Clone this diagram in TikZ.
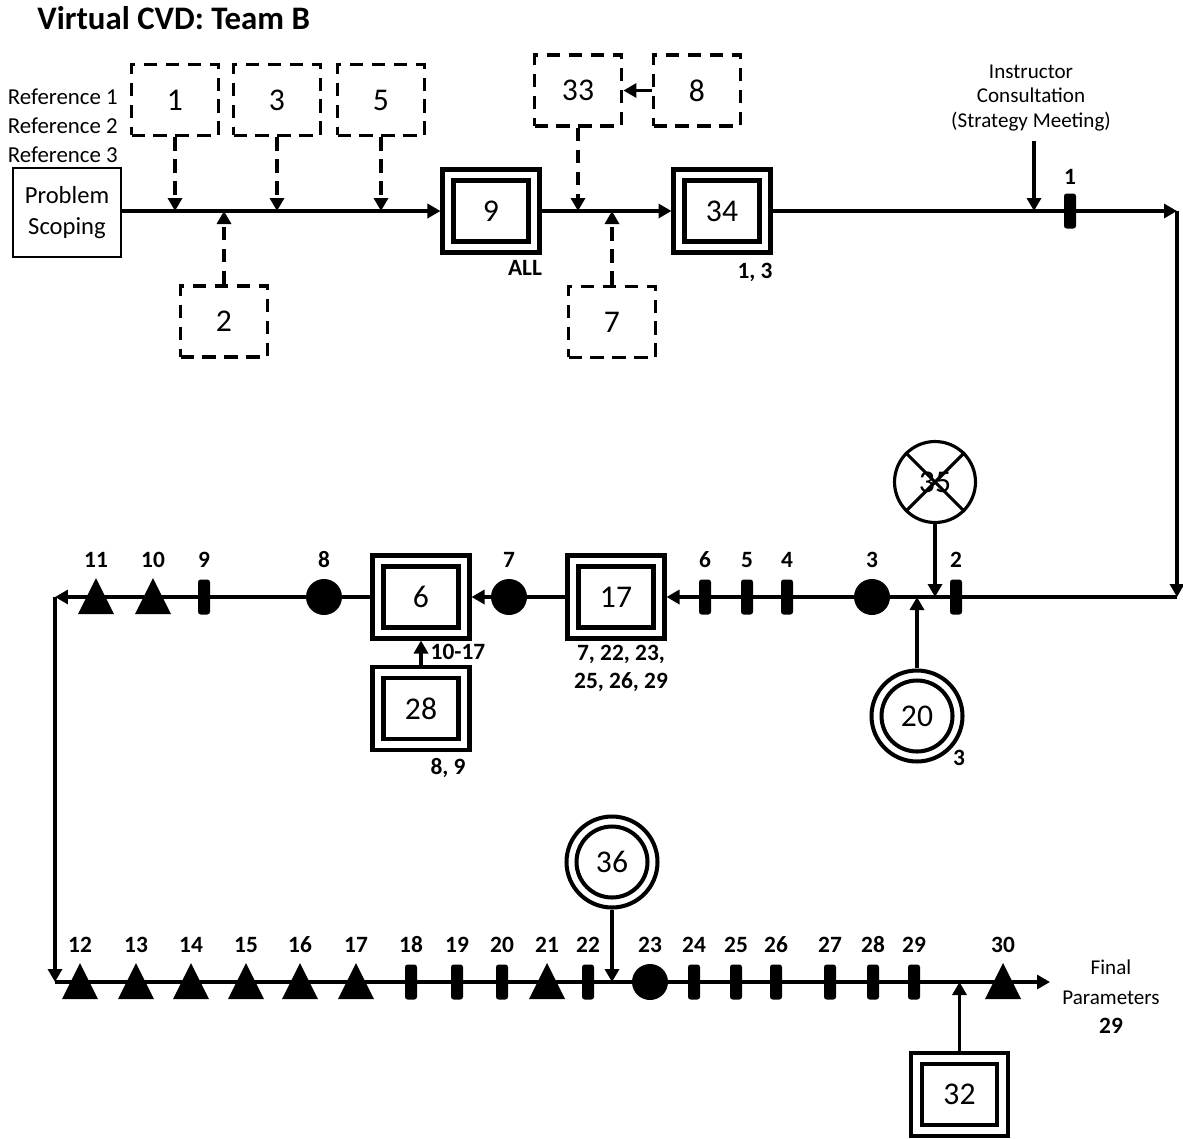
\documentclass[tikz,border=0pt]{standalone}
\usepackage{fontspec}
\setmainfont{Carlito}
\usetikzlibrary{arrows.meta,calc}
\newcommand\bignum{\fontsize{18pt}{21pt}\selectfont}
\tikzset{
  ln/.style={line width=2pt},
  arr/.style={-{Triangle[length=2.6mm,width=2.8mm]}},
  dbox/.style={draw, line width=2.2pt, dash pattern=on 7.5pt off 5pt, minimum width=1.74cm, minimum height=1.42cm, inner sep=0, font=\bignum},
  darr/.style={line width=2pt, dash pattern=on 7.5pt off 5pt, -{Triangle[length=2.6mm,width=2.8mm]}},
  obox/.style={draw, line width=2.3pt, minimum width=1.94cm, minimum height=1.66cm, inner sep=0},
  ibox/.style={draw, line width=2.8pt, minimum width=1.5cm, minimum height=1.22cm, inner sep=0, font=\bignum},
  ocirc/.style={draw, circle, line width=2.3pt, minimum size=1.82cm, inner sep=0},
  icirc/.style={draw, circle, line width=2.3pt, minimum size=1.42cm, inner sep=0, font=\bignum},
  lbl/.style={font=\fontsize{13.3pt}{15.9pt}\selectfont\bfseries, inner sep=0},
  pics/tri/.style={code={\fill (-18,17) -- (18,17) -- (0,-19) -- cycle;}},
  pics/tick/.style={code={\fill[rounded corners=1.5pt] (-6,-17.5) rectangle (6,17.5);}},
  pics/dot/.style={code={\fill (0,0) circle (0.36cm);}},
}
\begin{document}
\begin{tikzpicture}[x=0.02cm,y=-0.02cm]
\useasboundingbox (0,0) rectangle (1183,1139);

% title
\node[anchor=base west, inner sep=0, font=\fontsize{18.7pt}{22pt}\selectfont\bfseries] (title) at (37,30) {Virtual CVD: Team B};

% references
\node[anchor=east, align=right, inner sep=0, font=\fontsize{13pt}{16.4pt}\selectfont] (refs) at (118,126) {Reference 1\\Reference 2\\Reference 3};

% problem scoping
\node[draw, line width=0.9pt, minimum width=2.16cm, minimum height=1.78cm, align=center, inner sep=0, font=\fontsize{14pt}{17.6pt}\selectfont] (ps) at (67,212.5) {Problem\\Scoping};

% dashed boxes
\node[dbox] (b1) at (175,100) {1};
\node[dbox] (b3) at (277,100) {3};
\node[dbox] (b5) at (381,100) {5};
\node[dbox] (b2) at (224,321.5) {2};
\node[dbox] (b33) at (578,90.5) {33};
\node[dbox] (b8) at (697,90.5) {8};
\node[dbox] (b7) at (612,322) {7};

% double boxes
\node[obox] (b9) at (491,211) {};
\node[ibox] (b9i) at (b9) {9};
\node[obox] (b34) at (722,211) {};
\node[ibox] (b34i) at (b34) {34};
\node[obox] (b17) at (616,597) {};
\node[ibox] (b17i) at (b17) {17};
\node[obox] (b6) at (421,597) {};
\node[ibox] (b6i) at (b6) {6};
\node[obox] (b28) at (421,708.5) {};
\node[ibox] (b28i) at (b28) {28};
\node[obox] (b32) at (959.5,1094.5) {};
\node[ibox] (b32i) at (b32) {32};

% circles
\node[draw, circle, line width=1.8pt, minimum size=1.62cm, inner sep=0, font=\bignum] (c35) at (935,482) {35};
\draw[line width=1.8pt] (c35.45) -- (c35.225) (c35.135) -- (c35.315);
\node[ocirc] (c20) at (917,716) {};
\node[icirc] (c20i) at (c20) {20};
\node[ocirc] (c36) at (612,862) {};
\node[icirc] (c36i) at (c36) {36};

% box labels
\node[lbl] (lall) at (525,268) {ALL};
\node[lbl] (l13) at (755,272) {1, 3};
\node[lbl] (l1017) at (458,652) {10-17};
\node[lbl, align=center] (l17) at (621,668) {7, 22, 23,\\25, 26, 29};
\node[lbl] (l89) at (448,768) {8, 9};
\node[lbl] (l20) at (959,758) {3};

% instructor
\node[align=center, inner sep=0, font=\fontsize{12pt}{13.9pt}\selectfont] (instr) at (1031,98) {Instructor\\Consultation\\(Strategy Meeting)};
\coordinate (ic) at (1034,141);

% final parameters
\node[align=center, inner sep=0, font=\fontsize{12pt}{16.7pt}\selectfont] (fp) at (1111,997) {Final\\Parameters\\{\fontsize{13.3pt}{16.7pt}\selectfont\bfseries 29}};

% path coordinates
\coordinate (tr) at (1177,211);
\coordinate (mr) at (1177,597);
\coordinate (ml) at (55,597);
\coordinate (bl) at (55,982);
\coordinate (br) at (1050,982);

% main flow
\draw[ln,arr] (ps.east |- tr) -- (b9.west);
\draw[ln,arr] (b9.east) -- (b34.west);
\draw[ln,arr] (b34.east) -- (tr);
\draw[ln,arr] (tr) -- (mr);
\draw[ln,arr] (mr) -- (b17.east);
\draw[ln,arr] (b17.west) -- (b6.east);
\draw[ln,arr] (b6.west) -- (ml);
\draw[ln,arr] (ml) -- (bl);
\draw[ln,arr] (bl) -- (br);

% dashed inputs
\draw[darr] (b1.south) -- (b1.south |- tr);
\draw[darr] (b3.south) -- (b3.south |- tr);
\draw[darr] (b5.south) -- (b5.south |- tr);
\draw[darr] (b2.north) -- (b2.north |- tr);
\draw[darr] (b33.south) -- (b33.south |- tr);
\draw[darr] (b7.north) -- (b7.north |- tr);
\draw[ln,arr] (b8.west) -- (b33.east);

% other inputs
\draw[line width=2.6pt,arr] (ic) -- (ic |- tr);
\draw[ln,arr] (c35.south) -- (c35.south |- mr);
\draw[ln,arr] (c20.north) -- (c20.north |- mr);
\draw[ln,arr] (b28.north) -- (b6.south);
\draw[ln,arr] (c36.south) -- (c36.south |- br);
\draw[ln,arr] (b32.north) -- (b32.north |- br);

% top marker
\pic at (1070,211) {tick};
\node[lbl] (m1) at (1070,177) {1};

% middle markers
\foreach \x/\t/\l in {956/tick/2, 872/dot/3, 787/tick/4, 747/tick/5, 705/tick/6, 509/dot/7, 324/dot/8, 204/tick/9, 153/tri/10, 96/tri/11} {
  \pic at (\x,597) {\t};
  \node[lbl] at (\x,560) {\l};
}

% bottom markers
\foreach \x/\t/\l in {80/tri/12, 136/tri/13, 191/tri/14, 246/tri/15, 300/tri/16, 356/tri/17, 411/tick/18, 457/tick/19, 502/tick/20, 547/tri/21, 588/tick/22, 650/dot/23, 694/tick/24, 736/tick/25, 776/tick/26, 830/tick/27, 873/tick/28, 914/tick/29, 1003/tri/30} {
  \pic at (\x,982) {\t};
  \node[lbl] at (\x,945) {\l};
}
\end{tikzpicture}
\end{document}
